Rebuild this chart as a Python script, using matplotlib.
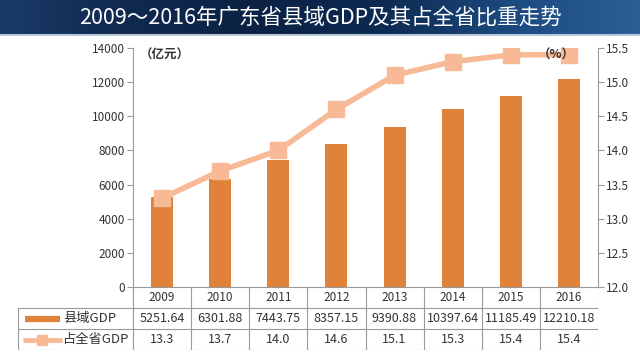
import numpy as np
import matplotlib
matplotlib.use("Agg")
import matplotlib.pyplot as plt
from matplotlib.colors import LinearSegmentedColormap

plt.rcParams['font.family'] = ['Noto Sans CJK SC', 'DejaVu Sans']

years = ["2009", "2010", "2011", "2012", "2013", "2014", "2015", "2016"]
county_gdp = [5251.64, 6301.88, 7443.75, 8357.15, 9390.88, 10397.64, 11185.49, 12210.18]
share = [13.3, 13.7, 14.0, 14.6, 15.1, 15.3, 15.4, 15.4]
left_ticks = [0, 2000, 4000, 6000, 8000, 10000, 12000, 14000]
right_ticks = [12.0, 12.5, 13.0, 13.5, 14.0, 14.5, 15.0, 15.5]

BAR = "#E0823A"
LINE = "#F8B996"
GRID = "#9a9a9a"
TXT = "#333333"

W, H = 640, 356
fig = plt.figure(figsize=(W / 100, H / 100), dpi=100, facecolor="white")


def fx(px):
    return px / W


def fy(py):
    return 1 - py / H


# title banner
band = fig.add_axes([0, fy(36), 1, 36 / H])
cmap = LinearSegmentedColormap.from_list(
    "band", ["#1a3a66", "#10294f", "#0b2244", "#0d2a52", "#1c4a80", "#2b5f96"])
grad = np.linspace(0, 1, 256).reshape(1, -1)
band.imshow(grad, aspect="auto", cmap=cmap, extent=[0, 1, 0, 1])
band.axhline(0.02, color="#b8c8d8", lw=1.5)
band.set_axis_off()
band.text(0.5, 0.5, "2009～2016年广东省县域GDP及其占全省比重走势", color="white",
          fontsize=15.5, ha="center", va="center")

# main chart
L, R, T, B = 133, 598, 48, 287
ax = fig.add_axes([fx(L), fy(B), fx(R - L), (B - T) / H])
x = np.arange(len(years))
ax.bar(x, county_gdp, width=0.38, color=BAR, zorder=2)
ax.set_xlim(-0.5, len(years) - 0.5)
ax.set_ylim(0, 14000)
ax.set_yticks(left_ticks)
ax.set_xticks([])
for s in ["top", "right"]:
    ax.spines[s].set_visible(False)
for s in ["left", "bottom"]:
    ax.spines[s].set_color(GRID)
ax.tick_params(axis="y", colors=GRID, labelcolor=TXT, labelsize=8.5, length=4, direction="out", pad=2)

ax2 = ax.twinx()
ax2.plot(x, share, color=LINE, lw=4, marker="s", markersize=11, zorder=3)
ax2.set_ylim(12.0, 15.5)
ax2.set_yticks(right_ticks)
ax2.set_yticklabels([f"{t:.1f}" for t in right_ticks])
for s in ["top", "left", "bottom"]:
    ax2.spines[s].set_visible(False)
ax2.spines["right"].set_color(GRID)
ax2.tick_params(axis="y", colors=GRID, labelcolor=TXT, labelsize=8.5, length=4, direction="out", pad=2)

fig.text(fx(140), fy(55), "（亿元）", fontsize=9, fontweight="bold", color=TXT, va="center")
fig.text(fx(538), fy(55), "（%）", fontsize=9, fontweight="bold", color=TXT, va="center")

# data table
TL, TT, TB = 18, 287, 350
col_w = (R - L) / len(years)
lab_w = (L - TL) / col_w
tab = fig.add_axes([fx(TL), fy(TB), fx(R - TL), (TB - TT) / H])
tab.set_xlim(-0.5 - lab_w, len(years) - 0.5)
tab.set_ylim(3, 0)
tab.set_axis_off()
lk = dict(color=GRID, lw=0.8)
edges = np.arange(len(years) + 1) - 0.5
for e in edges:
    tab.plot([e, e], [0, 3], **lk)
tab.plot([-0.5 - lab_w, -0.5 - lab_w], [1, 3], **lk)
tab.plot([-0.5 - lab_w, len(years) - 0.5], [1, 1], **lk)
tab.plot([-0.5 - lab_w, len(years) - 0.5], [2, 2], **lk)
tab.plot([-0.5 - lab_w, len(years) - 0.5], [3, 3], **lk)

for i, yr in enumerate(years):
    tab.text(i, 0.5, yr, ha="center", va="center", fontsize=8.5, color=TXT)
    tab.text(i, 1.5, f"{county_gdp[i]:.2f}", ha="center", va="center", fontsize=9, color=TXT)
    tab.text(i, 2.5, f"{share[i]:.1f}", ha="center", va="center", fontsize=9, color=TXT)

x0 = -0.5 - lab_w
tab.plot([x0 + 0.12, x0 + 0.72], [1.5, 1.5], color=BAR, lw=4.5, solid_capstyle="butt")
tab.plot([x0 + 0.08, x0 + 0.76], [2.5, 2.5], color=LINE, lw=3.5, solid_capstyle="butt")
tab.plot([x0 + 0.42], [2.5], color=LINE, marker="s", markersize=7)
tab.text(x0 + 0.78, 1.5, "县域GDP", ha="left", va="center", fontsize=9.5, color=TXT)
tab.text(x0 + 0.78, 2.5, "占全省GDP", ha="left", va="center", fontsize=9.5, color=TXT)

fig.savefig("out.png", dpi=100, facecolor="white")
